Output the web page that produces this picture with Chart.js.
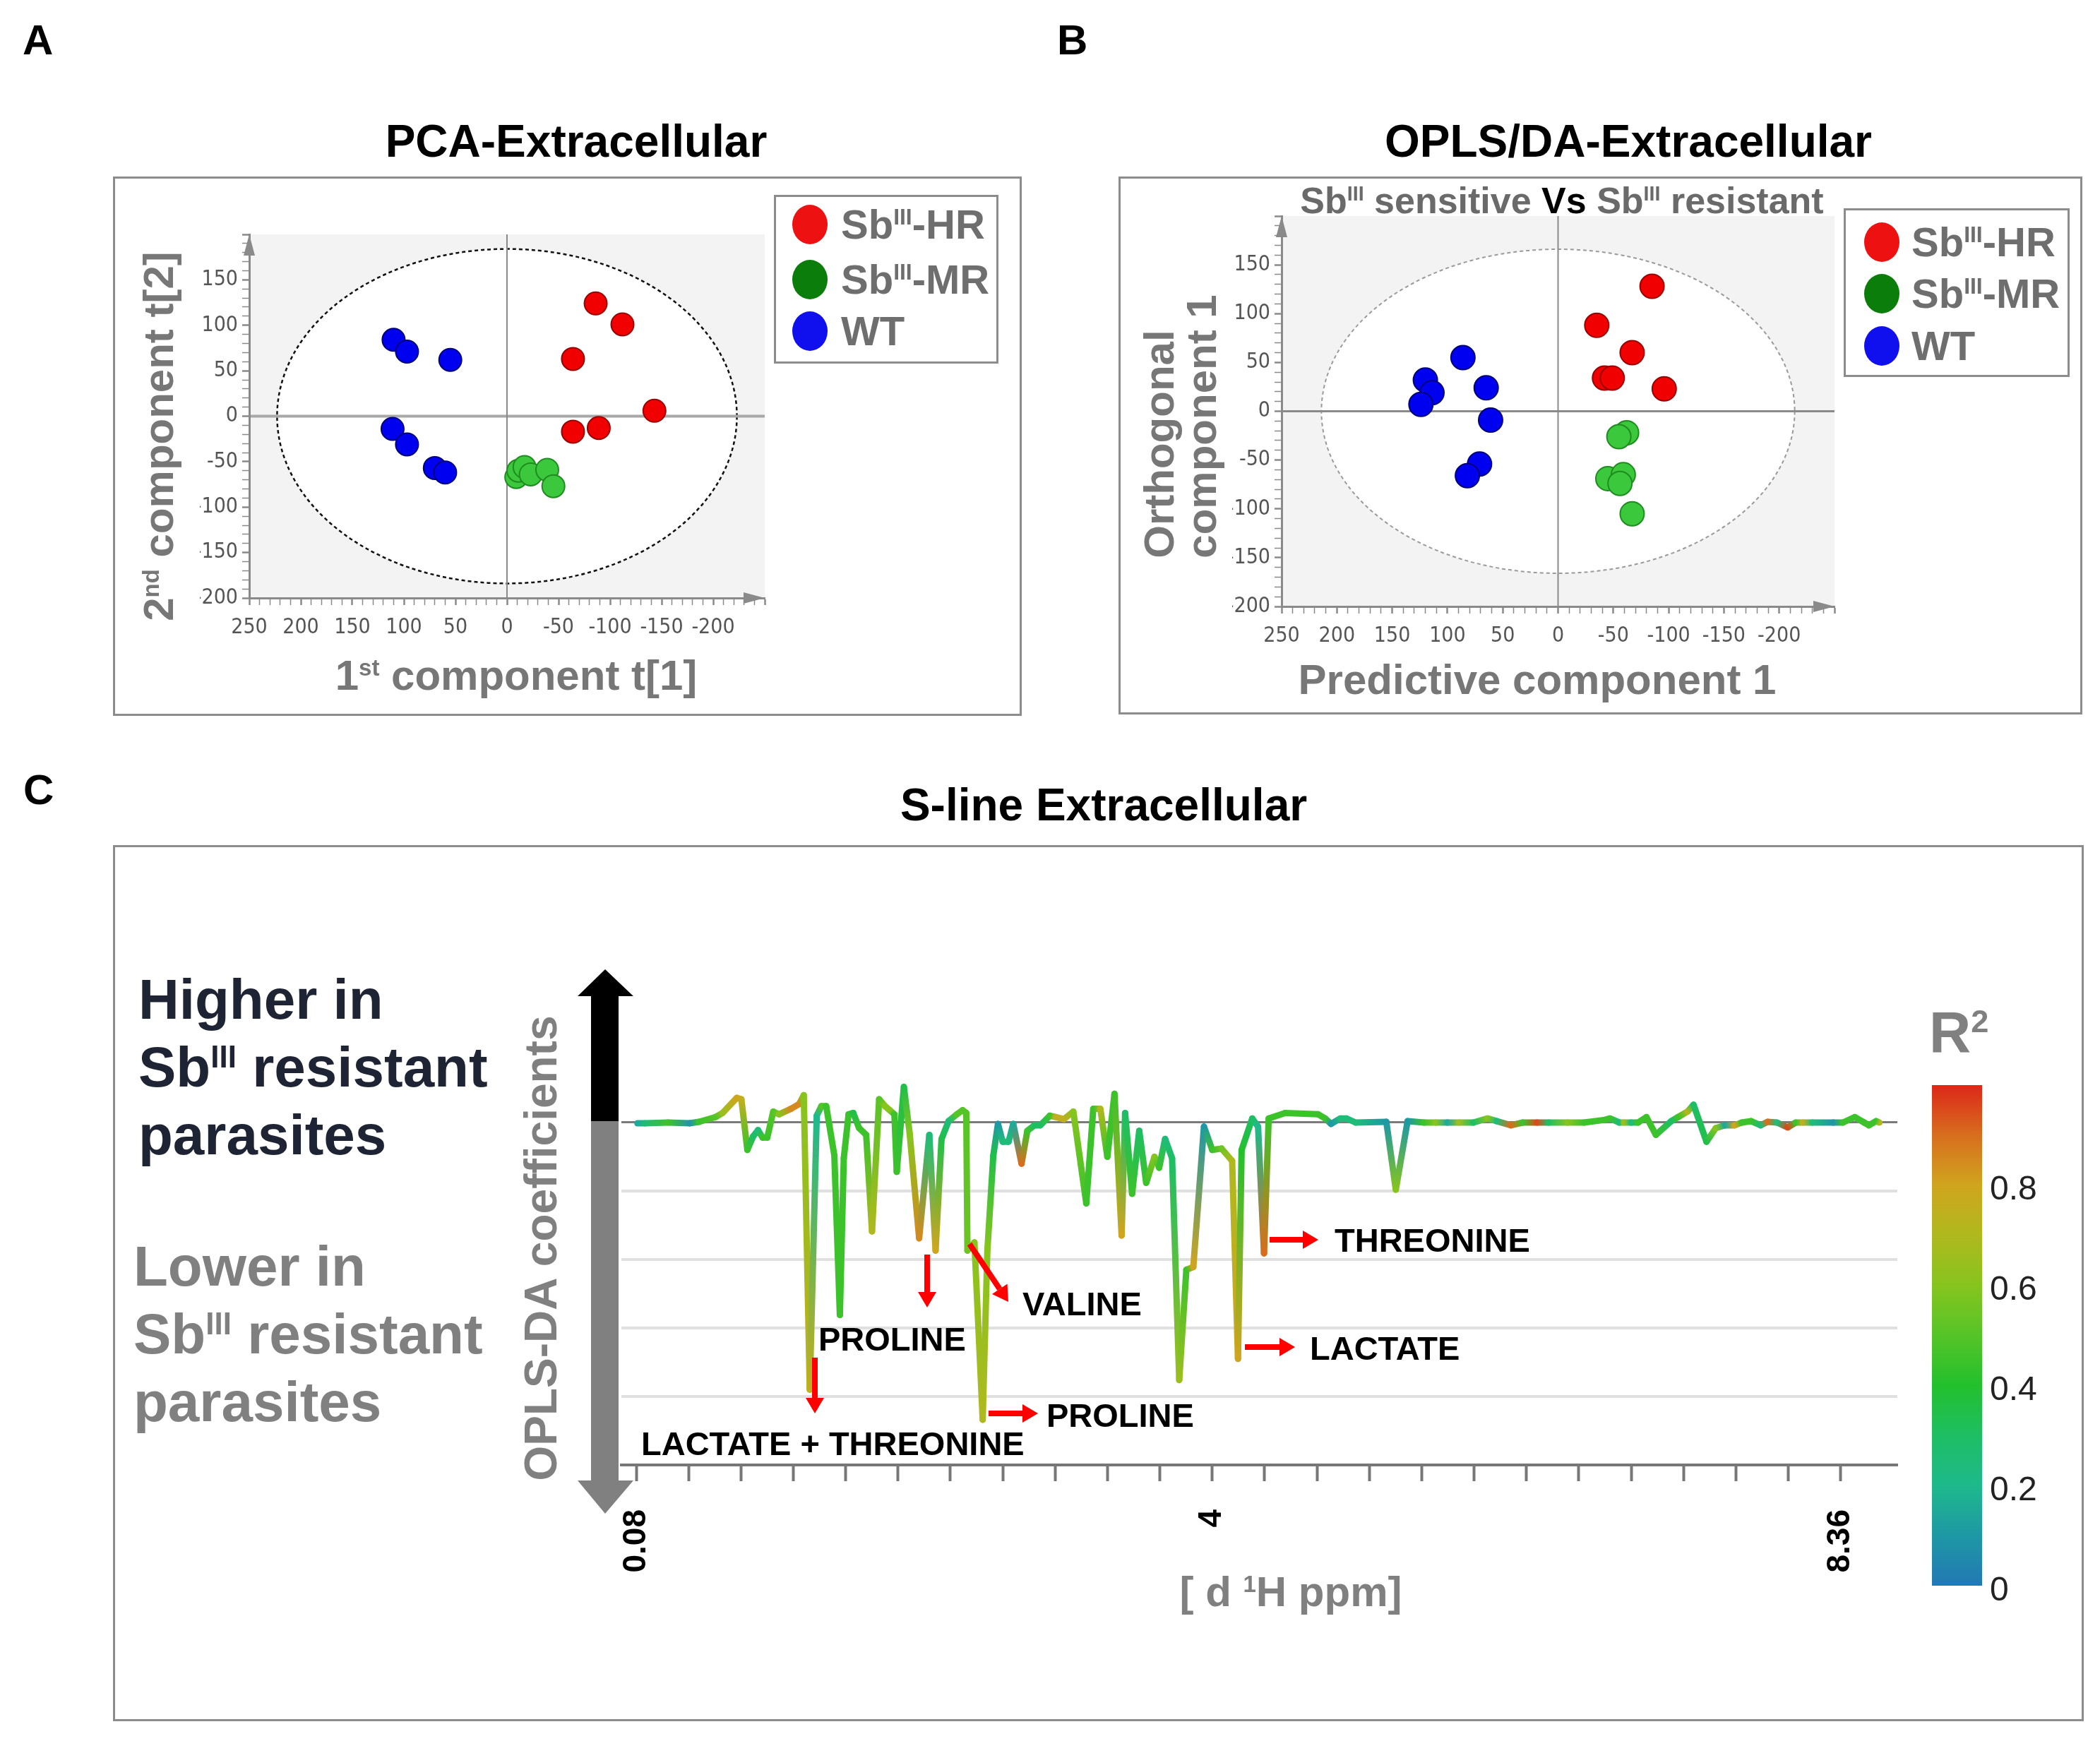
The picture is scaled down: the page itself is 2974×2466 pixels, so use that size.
<!DOCTYPE html>
<html>
<head>
<meta charset="utf-8">
<title>PCA / OPLS-DA / S-line extracellular</title>
<script src="https://cdn.jsdelivr.net/npm/chart.js@4.4.1/dist/chart.umd.min.js"></script>
<style>
  body { margin: 0; background: #fff; }
  #page { position: relative; width: 2974px; height: 2466px; overflow: hidden;
          font-family: "Liberation Sans", Arial, sans-serif; }
  .txt { position: absolute; white-space: nowrap; }
  .frame { position: absolute; border: 3px solid #8c8c8c; box-sizing: border-box; }
  .dot { position: absolute; border-radius: 50%; }
  sup { font-size: 0.55em; line-height: 0; vertical-align: 0.62em; }
  canvas { position: absolute; }
  svg { position: absolute; left: 0; top: 0; }
</style>
</head>
<body>
<div id="page">
  <div class="frame" style="left:160px;top:250px;width:1287px;height:764px"></div>
  <div class="frame" style="left:1584px;top:250px;width:1365px;height:762px"></div>
  <div class="frame" style="left:160px;top:1197px;width:2791px;height:1241px"></div>
  <canvas id="chartA" width="840" height="620" style="left:263px;top:312px;width:840px;height:620px"></canvas>
  <canvas id="chartB" width="893" height="658" style="left:1725px;top:286px;width:893px;height:658px"></canvas>
  <canvas id="chartC" width="1847" height="810" style="left:860px;top:1473px;width:1847px;height:810px"></canvas>
  <div id="r2bar" style="position:absolute;left:2736px;top:1537px;width:71px;height:709px"></div>
  <svg id="arrows" width="2974" height="2466"></svg>
</div>
<script>
// ---------------- data ----------------
// PCA scores  t[1] / t[2]
const pcaHR_x = [-86, -112, -64, -143, -64, -89];
const pcaHR_y = [124, 101, 63, 6, -17, -13];
const pcaMR_x = [-9, -11, -17, -23, -39, -45];
const pcaMR_y = [-67, -60, -56, -64, -59, -77];
const pcaWT_x = [110, 97, 55, 111, 97, 70, 60];
const pcaWT_y = [84, 71, 62, -14, -31, -57, -62];

// OPLS-DA scores  predictive / orthogonal
const oplsHR_x = [-85, -35, -67, -42, -49, -96];
const oplsHR_y = [128, 88, 60, 34, 34, 23];
const oplsMR_x = [-62, -55, -45, -59, -56, -67];
const oplsMR_y = [-22, -26, -69, -65, -74, -105];
const oplsWT_x = [86, 120, 114, 124, 65, 61, 71, 82];
const oplsWT_y = [55, 32, 19, 7, 24, -9, -54, -66];

const groupNames = ['Sb<sup>III</sup>-HR', 'Sb<sup>III</sup>-MR', 'WT'];

// S-line: chemical shift (ppm), OPLS-DA coefficient, R2
const sPpm = [0.088, 0.14, 0.30, 0.447, 0.512, 0.625, 0.674, 0.771, 0.803, 0.844,
  0.884, 0.917, 0.949, 0.981, 1.022, 1.062, 1.143, 1.20, 1.232, 1.273,
  1.321, 1.353, 1.386, 1.442, 1.48, 1.507, 1.54, 1.572, 1.612, 1.661,
  1.701, 1.75, 1.79, 1.823, 1.855, 1.871, 1.92, 1.96, 2.025, 2.095,
  2.138, 2.179, 2.227, 2.284, 2.324, 2.349, 2.357, 2.405, 2.462, 2.494,
  2.535, 2.567, 2.599, 2.64, 2.672, 2.729, 2.769, 2.818, 2.858, 2.923,
  2.963, 3.02, 3.085, 3.174, 3.222, 3.271, 3.319, 3.368, 3.417, 3.441,
  3.489, 3.538, 3.586, 3.643, 3.675, 3.716, 3.764, 3.813, 3.862, 3.91,
  3.983, 4.04, 4.104, 4.177, 4.217, 4.242, 4.315, 4.355, 4.396, 4.428,
  4.541, 4.768, 4.816, 4.857, 4.921, 4.962, 5.026, 5.237, 5.302, 5.383,
  5.496, 5.577, 5.658, 5.738, 5.836, 5.933, 5.997, 6.094, 6.175, 6.273,
  6.353, 6.483, 6.596, 6.742, 6.774, 6.839, 6.871, 6.92, 6.968, 7.025,
  7.09, 7.195, 7.243, 7.308, 7.349, 7.438, 7.502, 7.567, 7.632, 7.68,
  7.745, 7.81, 7.858, 7.923, 7.996, 8.052, 8.101, 8.166, 8.311, 8.376,
  8.457, 8.522, 8.554, 8.603, 8.627];
const sCoef = [-0.01, -0.01, 0.00, -0.01, 0.01, 0.08, 0.14, 0.36, 0.34, -0.40,
  -0.20, -0.11, -0.22, -0.22, 0.16, 0.12, 0.20, 0.27, 0.40, -3.90,
  0.10, 0.24, 0.24, -0.48, -2.81, -0.52, 0.12, 0.14, -0.08, -0.18,
  -1.59, 0.34, 0.24, 0.18, 0.12, -0.72, 0.52, -0.16, -1.69, -0.18,
  -1.87, -0.24, 0.02, 0.12, 0.18, 0.14, -1.87, -1.75, -4.34, -1.87,
  -0.48, -0.02, -0.28, -0.28, -0.02, -0.60, -0.12, -0.04, -0.04, 0.10,
  0.08, 0.05, 0.16, -1.18, 0.20, 0.20, -0.50, 0.42, -1.65, 0.14,
  -1.04, -0.12, -0.88, -0.50, -0.66, -0.24, -0.52, -3.76, -2.15, -2.11,
  -0.06, -0.40, -0.38, -0.56, -3.45, -0.40, 0.06, -0.06, -1.91, 0.06,
  0.14, 0.12, 0.06, -0.02, 0.06, 0.06, 0.00, 0.01, -0.98, 0.02,
  0.00, 0.00, 0.00, 0.00, 0.00, 0.06, 0.02, -0.04, 0.00, 0.00,
  0.00, 0.00, 0.00, 0.04, 0.06, 0.00, 0.00, 0.00, 0.00, 0.08,
  -0.18, 0.02, 0.08, 0.16, 0.26, -0.28, -0.08, -0.04, -0.04, 0.00,
  0.02, -0.04, 0.01, 0.00, -0.07, 0.00, 0.00, 0.00, 0.00, 0.00,
  0.08, 0.00, -0.04, 0.02, 0.00];
const sR2 = [0.15, 0.25, 0.45, 0.10, 0.45, 0.50, 0.65, 0.80, 0.75, 0.45,
  0.30, 0.25, 0.45, 0.45, 0.50, 0.60, 0.85, 0.85, 0.60, 0.75,
  0.20, 0.50, 0.45, 0.45, 0.45, 0.45, 0.45, 0.35, 0.45, 0.45,
  0.70, 0.50, 0.60, 0.60, 0.45, 0.45, 0.35, 0.60, 0.85, 0.25,
  0.80, 0.35, 0.25, 0.50, 0.50, 0.50, 0.55, 0.60, 0.70, 0.60,
  0.35, 0.10, 0.25, 0.25, 0.15, 0.90, 0.45, 0.30, 0.30, 0.45,
  0.75, 0.75, 0.60, 0.45, 0.45, 0.70, 0.45, 0.45, 0.80, 0.30,
  0.45, 0.30, 0.45, 0.60, 0.45, 0.25, 0.30, 0.65, 0.45, 0.80,
  0.10, 0.45, 0.55, 0.70, 0.80, 0.40, 0.30, 0.20, 0.90, 0.45,
  0.45, 0.45, 0.45, 0.10, 0.25, 0.25, 0.25, 0.10, 0.60, 0.10,
  0.45, 0.60, 0.15, 0.65, 0.30, 0.60, 0.25, 0.90, 0.45, 0.95,
  0.30, 0.60, 0.45, 0.45, 0.45, 0.25, 0.65, 0.25, 0.45, 0.45,
  0.45, 0.30, 0.45, 0.70, 0.30, 0.35, 0.60, 0.15, 0.80, 0.45,
  0.45, 0.25, 0.90, 0.25, 0.95, 0.45, 0.75, 0.25, 0.10, 0.45,
  0.45, 0.45, 0.45, 0.45, 0.70];

const ppmTicks = [0.08, 0.44, 0.80, 1.16, 1.52, 1.88, 2.24, 2.60, 2.96, 3.32, 3.68, 4.04,
  4.40, 4.76, 5.12, 5.48, 5.84, 6.20, 6.56, 6.92, 7.28, 7.64, 8.00, 8.36];
const ppmTickLabels = ['0.08', '', '', '', '', '', '', '', '', '', '', '4',
  '', '', '', '', '', '', '', '', '', '', '', '8.36'];
const r2TickLabels = ['0.8', '0.6', '0.4', '0.2', '0'];
const r2TickValues = [0.8, 0.6, 0.4, 0.2, 0];

// colour scale of R2 (value, rgb)
const r2Stops = [[0, [35, 120, 180]], [0.1, [30, 152, 165]], [0.2, [30, 185, 140]],
  [0.3, [30, 190, 100]], [0.4, [35, 192, 45]], [0.5, [85, 196, 40]], [0.6, [135, 196, 30]],
  [0.7, [175, 185, 30]], [0.8, [208, 165, 30]], [0.9, [215, 110, 30]], [1, [220, 40, 25]]];

function r2Color(v) {
  for (let i = 1; i < r2Stops.length; i++) {
    if (v <= r2Stops[i][0]) {
      const a = r2Stops[i - 1], b = r2Stops[i];
      const t = (v - a[0]) / (b[0] - a[0]);
      const c = a[1].map((k, j) => Math.round(k + (b[1][j] - k) * t));
      return 'rgb(' + c.join(',') + ')';
    }
  }
  return 'rgb(220,40,25)';
}

const page = document.getElementById('page');
const FONT = '"Liberation Sans", Arial, sans-serif';
Chart.defaults.font.family = '"Liberation Sans Narrow", "DejaVu Sans Condensed", "Liberation Sans", sans-serif';

// ---------------- html text helpers ----------------
// y is the vertical centre of the block, anchor 'left' | 'center'
function addText(html, x, y, size, opt) {
  opt = opt || {};
  const lines = opt.lines || 1;
  const d = document.createElement('div');
  d.className = 'txt';
  d.innerHTML = html;
  d.style.fontSize = size + 'px';
  d.style.lineHeight = (opt.lh || size) + 'px';
  d.style.fontWeight = opt.weight || 'bold';
  d.style.color = opt.color || '#000';
  d.style.left = x + 'px';
  d.style.top = (y - (opt.lh || size) * lines / 2) + 'px';
  if (opt.rotate) {
    d.style.transform = 'translateX(-50%) rotate(-90deg)';
  } else if (opt.align === 'center') {
    d.style.transform = 'translateX(-50%)';
  }
  page.appendChild(d);
  return d;
}

function addLegend(cx, textX, ys) {
  const fills = ['#ee1111', '#0b7d0b', '#1010ee'];
  ys.forEach((y, i) => {
    const d = document.createElement('div');
    d.className = 'dot';
    d.style.left = (cx - 25) + 'px';
    d.style.top = (y - 28) + 'px';
    d.style.width = '50px';
    d.style.height = '56px';
    d.style.background = fills[i];
    page.appendChild(d);
    addText(groupNames[i], textX, y, 58, {color: '#6e6e6e'});
  });
}

// ---------------- titles and labels ----------------
addText('A', 32, 57, 60);
addText('B', 1497, 57, 60);
addText('C', 33, 1119, 60);
addText('PCA-Extracellular', 816, 200, 64, {align: 'center'});
addText('OPLS/DA-Extracellular', 2306, 200, 64, {align: 'center'});
addText('S-line Extracellular', 1563, 1140, 64, {align: 'center'});

addText('2<sup>nd</sup> component t[2]', 225, 618, 60, {rotate: true, color: '#777'});
addText('1<sup>st</sup> component t[1]', 731, 957, 60, {align: 'center', color: '#777'});
addText('Sb<sup>III</sup> sensitive <span style="color:#000">Vs</span> Sb<sup>III</sup> resistant',
  2212, 284, 52, {align: 'center', color: '#6a6a6a'});
addText('Predictive component 1', 2177, 963, 60, {align: 'center', color: '#777'});
addText('Orthogonal<br>component 1', 1672, 604, 60, {rotate: true, color: '#777', lines: 2});

// legend frames
['1096,276,318,239', '2611,295,320,239'].forEach(s => {
  const [l, t, w, h] = s.split(',');
  const f = document.createElement('div');
  f.className = 'frame';
  f.style.cssText += `left:${l}px;top:${t}px;width:${w}px;height:${h}px;background:#fff`;
  page.appendChild(f);
});
addLegend(1147, 1191, [318, 396, 469]);
addLegend(2665, 2707, [343, 416, 490]);

// panel C side texts
addText('Higher in<br>Sb<sup>III</sup> resistant<br>parasites', 196, 1512, 80, {lh: 96, lines: 3, color: '#1e2433'});
addText('Lower in<br>Sb<sup>III</sup> resistant<br>parasites', 189, 1890, 80, {lh: 96, lines: 3, color: '#808080'});
addText('OPLS-DA coefficients', 766, 1768, 64, {rotate: true, color: '#808080'});
addText('[ d <sup>1</sup>H ppm]', 1828, 2255, 60, {align: 'center', color: '#808080'});

// annotations
addText('THREONINE', 1890, 1756, 47);
addText('VALINE', 1448, 1846, 47);
addText('PROLINE', 1159, 1896, 47);
addText('LACTATE', 1855, 1909, 47);
addText('PROLINE', 1482, 2004, 47);
addText('LACTATE + THREONINE', 908, 2044, 47);

// colour bar
document.getElementById('r2bar').style.background = 'linear-gradient(to top, ' +
  r2Stops.map(s => r2Color(s[0]) + ' ' + (s[0] * 100) + '%').join(', ') + ')';
const r2Top = 1541, r2Bottom = 2251;
r2TickValues.forEach((v, i) => {
  addText(r2TickLabels[i], 2818, r2Bottom - v * (r2Bottom - r2Top), 48, {weight: 'normal', color: '#222'});
});
addText('R<sup>2</sup>', 2732, 1462, 82, {color: '#808080'});

// ---------------- arrows (svg) ----------------
const svg = document.getElementById('arrows');
function poly(points, fill) {
  const p = document.createElementNS('http://www.w3.org/2000/svg', 'polygon');
  p.setAttribute('points', points);
  p.setAttribute('fill', fill);
  svg.appendChild(p);
}
poly('837,1588 837,1411 818,1411 857,1373 897,1411 876,1411 876,1588', '#000');
poly('837,1588 876,1588 876,2097 897,2097 857,2144 818,2097 837,2097', '#808080');

function redArrow(x1, y1, x2, y2) {
  const len = Math.hypot(x2 - x1, y2 - y1), ux = (x2 - x1) / len, uy = (y2 - y1) / len;
  const hl = 22, hw = 13;
  const bx = x2 - ux * hl, by = y2 - uy * hl;
  const l = document.createElementNS('http://www.w3.org/2000/svg', 'line');
  l.setAttribute('x1', x1); l.setAttribute('y1', y1);
  l.setAttribute('x2', bx); l.setAttribute('y2', by);
  l.setAttribute('stroke', '#ff0000'); l.setAttribute('stroke-width', 8);
  svg.appendChild(l);
  poly(`${x2},${y2} ${bx - uy * hw},${by + ux * hw} ${bx + uy * hw},${by - ux * hw}`, '#ff0000');
}
redArrow(1798, 1756, 1867, 1756);
redArrow(1763, 1908, 1834, 1908);
redArrow(1400, 2002, 1470, 2002);
redArrow(1313, 1777, 1313, 1852);
redArrow(1154, 1923, 1154, 2002);
redArrow(1373, 1762, 1428, 1844);

// ---------------- score plots ----------------
const plotBg = {
  id: 'plotBg',
  beforeDraw(chart, args, o) {
    const ctx = chart.ctx, a = chart.chartArea, x = chart.scales.x, y = chart.scales.y;
    ctx.save();
    ctx.fillStyle = '#f3f3f3';
    ctx.fillRect(a.left, a.top, a.right - a.left, a.bottom - a.top);
    const cx = x.getPixelForValue(0), cy = y.getPixelForValue(0);
    const rx = Math.abs(x.getPixelForValue(o.rx) - cx), ry = Math.abs(y.getPixelForValue(o.ry) - cy);
    ctx.beginPath();
    ctx.ellipse(cx, cy, rx, ry, 0, 0, Math.PI * 2);
    ctx.fillStyle = '#fff';
    ctx.fill();
    ctx.setLineDash(o.dash);
    ctx.strokeStyle = o.ellColor;
    ctx.lineWidth = o.ellWidth;
    ctx.stroke();
    ctx.setLineDash([]);
    ctx.strokeStyle = o.zeroH; ctx.lineWidth = o.zeroHW;
    ctx.beginPath(); ctx.moveTo(a.left, cy); ctx.lineTo(a.right, cy); ctx.stroke();
    ctx.strokeStyle = o.zeroV; ctx.lineWidth = o.zeroVW;
    ctx.beginPath(); ctx.moveTo(cx, a.top); ctx.lineTo(cx, a.bottom); ctx.stroke();
    ctx.restore();
  },
  afterDraw(chart) {
    const ctx = chart.ctx, a = chart.chartArea;
    ctx.save();
    ctx.fillStyle = '#8a8a8a';
    ctx.beginPath();   // y axis arrow
    ctx.moveTo(a.left, a.top); ctx.lineTo(a.left - 8, a.top + 30); ctx.lineTo(a.left + 8, a.top + 30);
    ctx.fill();
    ctx.beginPath();   // x axis arrow
    ctx.moveTo(a.right, a.bottom); ctx.lineTo(a.right - 30, a.bottom - 8); ctx.lineTo(a.right - 30, a.bottom + 8);
    ctx.fill();
    ctx.restore();
  }
};

function scoreChart(id, sets, radius, bg) {
  const datasets = sets.map(s => ({
    data: s.x.map((v, i) => ({x: v, y: s.y[i]})),
    backgroundColor: s.fill,
    borderColor: s.edge,
    borderWidth: 2,
    pointRadius: radius
  }));
  const tickFont = {size: 30};
  return new Chart(document.getElementById(id), {
    type: 'scatter',
    data: {datasets: datasets},
    options: {
      responsive: false, animation: false, devicePixelRatio: 1,
      layout: {padding: {left: 20, top: 20, right: 20, bottom: 15}},
      plugins: {legend: {display: false}, tooltip: {enabled: false}, plotBg: bg},
      scales: {
        x: {
          type: 'linear', reverse: true, min: -250, max: 250,
          ticks: {stepSize: 10, autoSkip: false, maxRotation: 0, minRotation: 0, padding: 14,
                  color: '#555', font: tickFont,
                  callback: v => (v % 50 === 0 && v !== -250) ? String(v) : ''},
          grid: {drawOnChartArea: false, tickLength: 10, tickColor: '#8a8a8a',
                 tickWidth: c => (c.tick && c.tick.value % 50 === 0) ? 2.5 : 1.5},
          border: {color: '#8a8a8a', width: 3},
          afterFit: s => { s.height = 70; s.paddingLeft = 0; s.paddingRight = 0; }
        },
        y: {
          type: 'linear', min: -200, max: 200,
          ticks: {stepSize: 10, autoSkip: false, padding: 6, color: '#555', font: tickFont,
                  callback: v => (v % 50 === 0 && v !== 200) ? String(v) : ''},
          grid: {drawOnChartArea: false, tickLength: 10, tickColor: '#8a8a8a',
                 tickWidth: c => (c.tick && c.tick.value % 50 === 0) ? 2.5 : 1.5},
          border: {color: '#8a8a8a', width: 3},
          afterFit: s => { s.width = 70; s.paddingTop = 0; s.paddingBottom = 0; }
        }
      }
    },
    plugins: [plotBg]
  });
}

const red = {fill: '#f00000', edge: '#9b0000'};
const green = {fill: '#3cc83c', edge: '#1e8c1e'};
const blue = {fill: '#0000f0', edge: '#00007a'};

scoreChart('chartA', [
  Object.assign({x: pcaHR_x, y: pcaHR_y}, red),
  Object.assign({x: pcaMR_x, y: pcaMR_y}, green),
  Object.assign({x: pcaWT_x, y: pcaWT_y}, blue)
], 16, {rx: 223, ry: 184, dash: [5, 4], ellColor: '#111', ellWidth: 2.5,
        zeroH: '#a8a8a8', zeroHW: 4, zeroV: '#8a8a8a', zeroVW: 2});

scoreChart('chartB', [
  Object.assign({x: oplsHR_x, y: oplsHR_y}, red),
  Object.assign({x: oplsMR_x, y: oplsMR_y}, green),
  Object.assign({x: oplsWT_x, y: oplsWT_y}, blue)
], 17, {rx: 214, ry: 166, dash: [5, 4], ellColor: '#9a9a9a', ellWidth: 2,
        zeroH: '#8a8a8a', zeroHW: 3, zeroV: '#8a8a8a', zeroVW: 2});

// ---------------- S-line ----------------
const cCanvas = document.getElementById('chartC');
const cCtx = cCanvas.getContext('2d');

new Chart(cCanvas, {
  type: 'line',
  data: {
    datasets: [{
      data: sPpm.map((p, i) => ({x: p, y: sCoef[i]})),
      borderWidth: 9,
      pointRadius: 0,
      tension: 0,
      borderCapStyle: 'round',
      borderJoinStyle: 'round',
      borderColor: r2Color(0.45),
      segment: {
        borderColor: c => {
          const g = cCtx.createLinearGradient(c.p0.x, c.p0.y, c.p1.x, c.p1.y);
          g.addColorStop(0, r2Color(sR2[c.p0DataIndex]));
          g.addColorStop(1, r2Color(sR2[c.p1DataIndex]));
          return g;
        },
        borderDashOffset: c => c.p0DataIndex
      }
    }]
  },
  options: {
    responsive: false, animation: false, devicePixelRatio: 1,
    layout: {padding: {left: 20, top: 20, right: 20, bottom: 8}},
    plugins: {legend: {display: false}, tooltip: {enabled: false}},
    scales: {
      x: {
        type: 'linear', min: -0.022, max: 8.75,
        afterBuildTicks: s => { s.ticks = ppmTicks.map(v => ({value: v})); },
        ticks: {autoSkip: false, minRotation: 90, maxRotation: 90, padding: 40, color: '#000',
                font: {family: FONT, weight: 'bold', size: 46},
                callback: (v, i) => ppmTickLabels[i]},
        grid: {drawOnChartArea: false, tickLength: 23, tickWidth: 4, tickColor: '#777'},
        border: {color: '#777', width: 4},
        afterFit: s => { s.height = 200; s.paddingLeft = 0; s.paddingRight = 0; }
      },
      y: {
        type: 'linear', min: -5, max: 1,
        ticks: {display: false, stepSize: 1},
        grid: {
          drawTicks: false,
          color: c => c.tick.value === 0 ? '#7a7a7a' :
                 (c.tick.value < 0 && c.tick.value > -5 ? '#e0e0e0' : 'rgba(0,0,0,0)'),
          lineWidth: c => c.tick.value === 0 ? 3 : 4
        },
        border: {display: false},
        afterFit: s => { s.width = 0; s.paddingTop = 0; s.paddingBottom = 0; }
      }
    }
  }
});
</script>
</body>
</html>
